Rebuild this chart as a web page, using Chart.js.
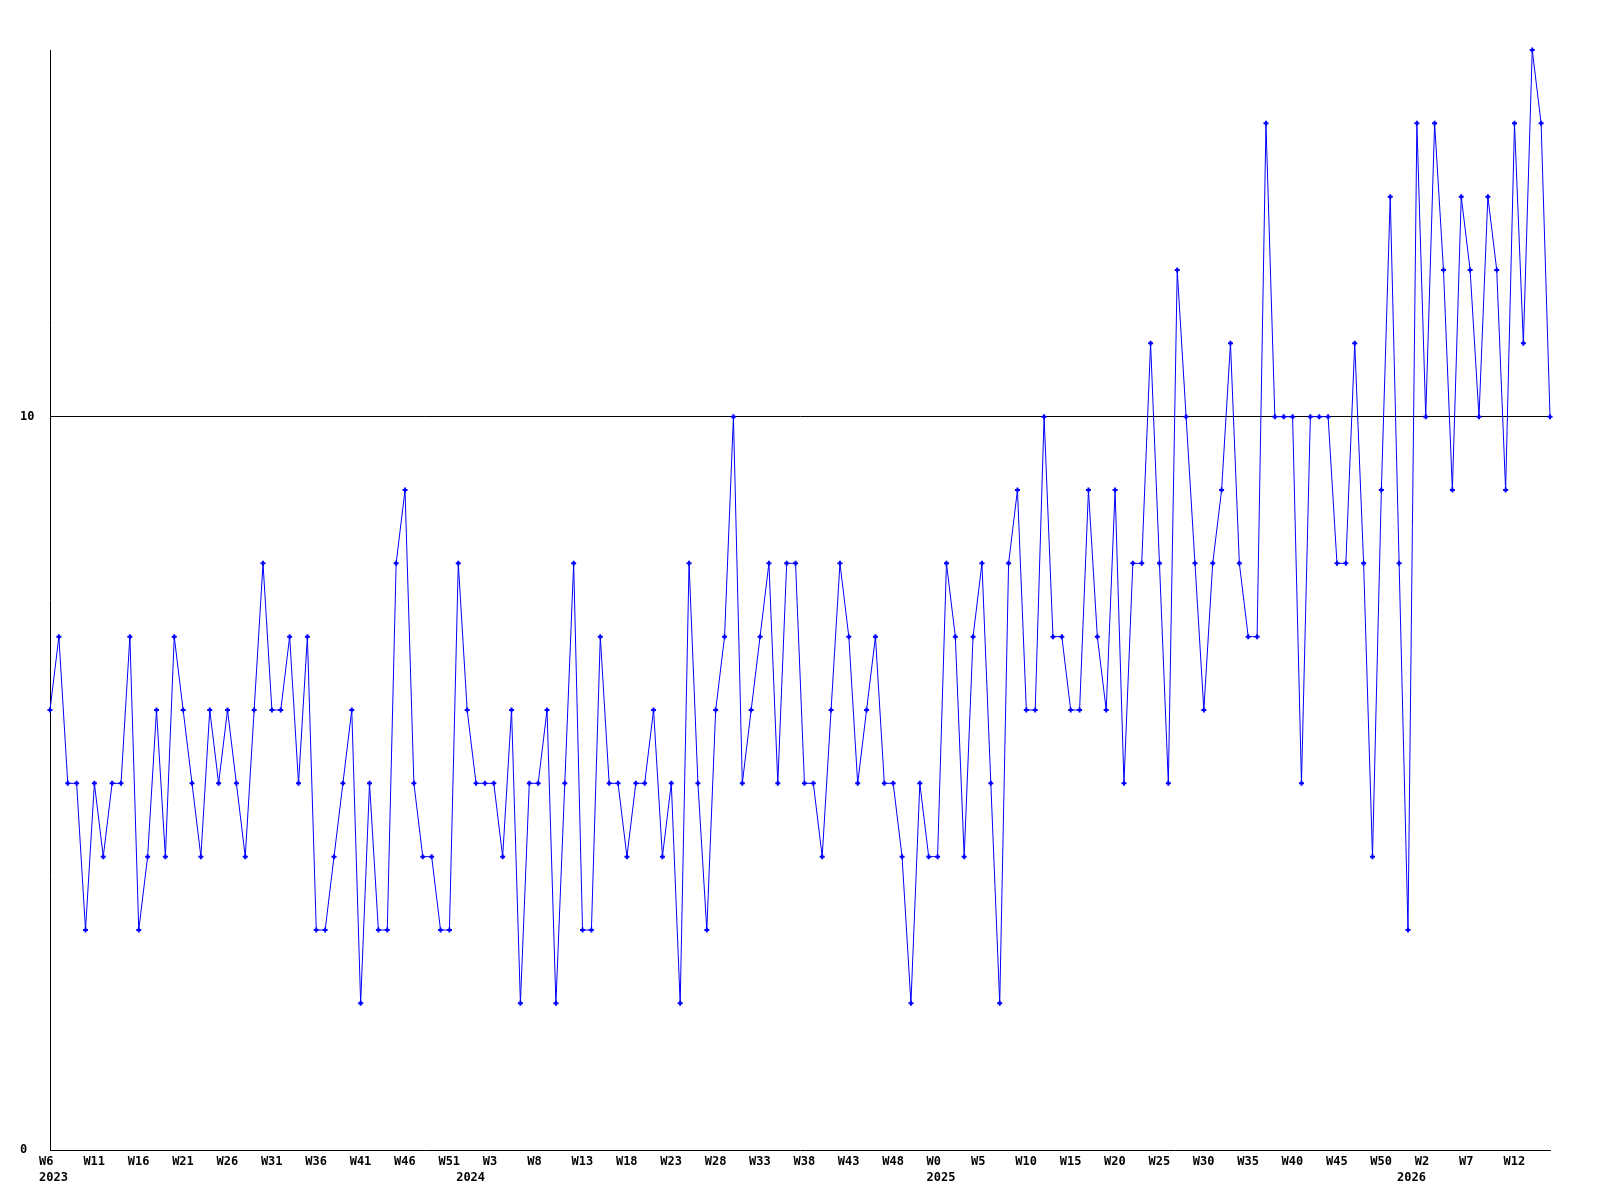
<!DOCTYPE html>
<html>
<head>
<meta charset="utf-8">
<script src="https://cdn.jsdelivr.net/npm/chart.js@4/dist/chart.umd.min.js"></script>
<style>
  html, body { margin: 0; padding: 0; background: #ffffff; }
  #wrap { width: 1600px; height: 1200px; }
</style>
</head>
<body>
<div id="wrap"><canvas id="c" width="1600" height="1200"></canvas></div>
<script>
// ---- data ----
const values = [
  6,7,5,5,3,5,4,5,5,7, 3,4,6,4,7,6,5,4,6,5,
  6,5,4,6,8,6,6,7,5,7, 3,3,4,5,6,2,5,3,3,8,
  9,5,4,4,3,3,8,6,5,5, 5,4,6,2,5,5,6,2,5,8,
  3,3,7,5,5,4,5,5,6,4, 5,2,8,5,3,6,7,10,5,6,
  7,8,5,8,8,5,5,4,6,8, 7,5,6,7,5,5,4,2,5,4,
  4,8,7,4,7,8,5,2,8,9, 6,6,10,7,7,6,6,9,7,6,
  9,5,8,8,11,8,5,12,10,8, 6,8,9,11,8,7,7,14,10,10,
  10,5,10,10,10,8,8,11,8,4, 9,13,8,3,14,10,14,12,9,13,
  12,10,13,12,9,14,11,15,14,10
];
const weekTickLabels = [
  "W6","W11","W16","W21","W26","W31","W36","W41","W46","W51",
  "W3","W8","W13","W18","W23","W28","W33","W38","W43","W48",
  "W0","W5","W10","W15","W20","W25","W30","W35","W40","W45",
  "W50","W2","W7","W12"
];
const yearLabels = ["2023","2024","2025","2026"];
const yearStartIndex = [0, 47, 100, 153];   // first week of each year (point index)
const yTickValues = [0, 10];
const yMin = 0, yMax = 15;

// ---- build library inputs ----
const TICK_EVERY = 5;      // one week label every 5 points
const categories = values.map((v, i) => String(i));

function weekLabel(i) {
  if (i % TICK_EVERY !== 0) return null;
  const k = i / TICK_EVERY;
  return k < weekTickLabels.length ? weekTickLabels[k] : null;
}

const FONT = { family: "'DejaVu Sans Mono', monospace", size: 12, weight: 'bold', lineHeight: 1.3 };

new Chart(document.getElementById('c'), {
  type: 'line',
  data: {
    labels: categories,
    datasets: [{
      data: values,
      xAxisID: 'x',
      yAxisID: 'y',
      borderColor: '#0000ff',
      backgroundColor: '#0000ff',
      borderWidth: 1,
      tension: 0,
      fill: false,
      pointStyle: 'cross',
      pointRadius: 2.5,
      pointBorderWidth: 2,
      pointBorderColor: '#0000ff',
      pointHoverRadius: 2.5,
      clip: false
    }]
  },
  options: {
    responsive: false,
    animation: false,
    devicePixelRatio: 1,
    events: [],
    layout: { padding: { left: 20, top: 50, right: 50, bottom: 0 } },
    plugins: { legend: { display: false }, tooltip: { enabled: false }, title: { display: false } },
    scales: {
      x: {
        type: 'category',
        position: 'bottom',
        weight: 0,
        offset: false,
        grid: { display: false, drawTicks: false },
        border: { display: true, color: '#000000', width: 1 },
        ticks: {
          autoSkip: false,
          maxRotation: 0,
          minRotation: 0,
          padding: 4,
          align: 'start',
          labelOffset: -11,
          color: '#000000',
          font: FONT,
          callback: function(val, i) { return weekLabel(i); }
        },
        afterFit: function(s) { s.height = 20; }
      },
      xYear: {
        type: 'linear',
        position: 'bottom',
        weight: 1,
        min: 0,
        max: values.length - 1,
        offset: false,
        afterBuildTicks: function(s) { s.ticks = yearStartIndex.map(v => ({ value: v })); },
        grid: { display: false, drawTicks: false },
        border: { display: false },
        ticks: {
          autoSkip: false,
          maxRotation: 0,
          minRotation: 0,
          padding: 0,
          align: 'start',
          labelOffset: -11,
          color: '#000000',
          font: FONT,
          callback: function(val, i) { return yearLabels[i]; }
        },
        afterFit: function(s) { s.height = 30; }
      },
      y: {
        type: 'linear',
        min: yMin,
        max: yMax,
        afterBuildTicks: function(s) { s.ticks = yTickValues.map(v => ({ value: v })); },
        grid: {
          drawTicks: false,
          lineWidth: 1,
          color: function(ctx) { return (ctx.tick && ctx.tick.value === 10) ? '#000000' : 'rgba(0,0,0,0)'; }
        },
        border: { display: true, color: '#000000', width: 1 },
        ticks: {
          crossAlign: 'far',
          padding: 0,
          color: '#000000',
          font: FONT,
          callback: function(v) { return String(v); }
        },
        afterFit: function(s) { s.width = 30; }
      }
    }
  }
});
</script>
</body>
</html>
